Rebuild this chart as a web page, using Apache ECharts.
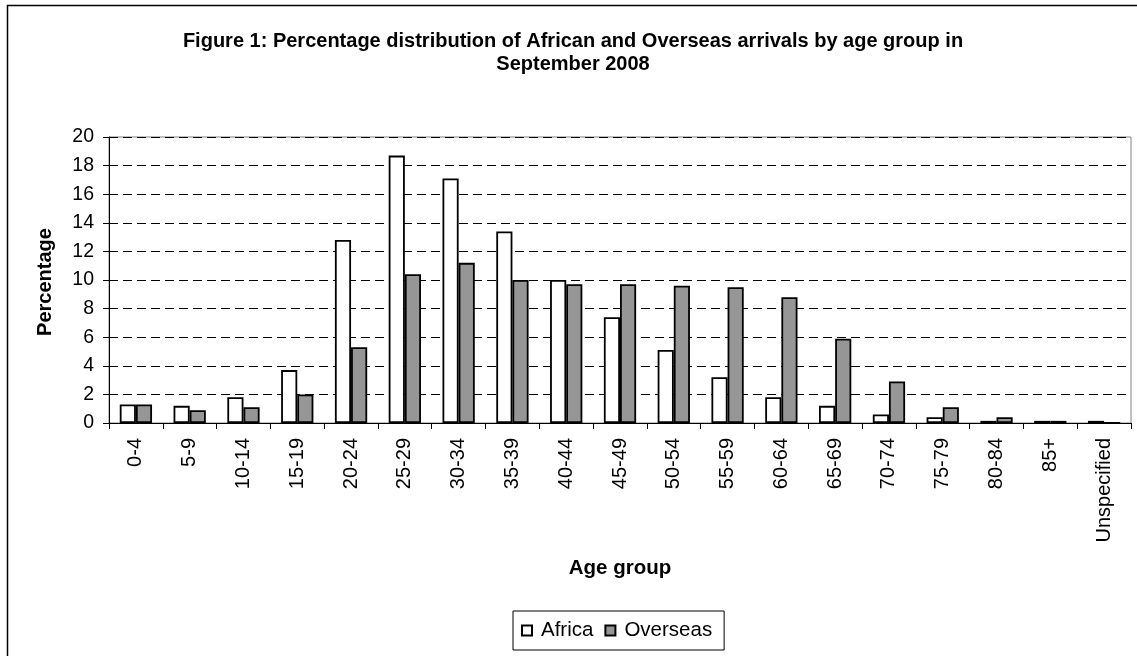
<!DOCTYPE html>
<html>
<head>
<meta charset="utf-8">
<script src="https://cdn.jsdelivr.net/npm/echarts@6/dist/echarts.min.js"></script>
<style>
html,body{margin:0;padding:0;background:#fff;}
#chart{width:1137px;height:656px;}
</style>
</head>
<body>
<div id="chart"></div>
<script>
const categories = ['0-4','5-9','10-14','15-19','20-24','25-29','30-34','35-39','40-44','45-49','50-54','55-59','60-64','65-69','70-74','75-79','80-84','85+','Unspecified'];
const africa   = [1.3, 1.2, 1.8, 3.7, 12.8, 18.7, 17.1, 13.4, 10.0, 7.4, 5.1, 3.2, 1.8, 1.2, 0.6, 0.4, 0.15, 0.15, 0.15];
const overseas = [1.3, 0.9, 1.1, 2.0, 5.3, 10.4, 11.2, 10.0, 9.7, 9.7, 9.6, 9.5, 8.8, 5.9, 2.9, 1.1, 0.4, 0.15, 0];
const yTicks = { min: 0, max: 20, interval: 2 };
const titleLines = ['Figure 1: Percentage distribution of African and Overseas arrivals by age group in', 'September 2008'];

const FONT = '"Liberation Sans", Arial, sans-serif';
const chart = echarts.init(document.getElementById('chart'), null, {renderer: 'canvas'});
chart.setOption({
  animation: false,
  backgroundColor: '#fff',
  textStyle: { fontFamily: FONT, color: '#000' },
  grid: { left: 109, right: 6, top: 137, bottom: 233, show: true, borderColor: '#808080', borderWidth: 1, backgroundColor: 'transparent' },
  xAxis: {
    type: 'category',
    data: categories,
    axisLine: { show: true, lineStyle: { color: '#000', width: 1 } },
    axisTick: { show: true, length: 6, lineStyle: { color: '#000' } },
    axisLabel: { rotate: 90, fontSize: 20, fontFamily: FONT, color: '#000', margin: 15, interval: 0 },
    splitLine: { show: false }
  },
  yAxis: {
    type: 'value',
    min: yTicks.min, max: yTicks.max, interval: yTicks.interval,
    axisLine: { show: true, lineStyle: { color: '#000', width: 1 } },
    axisTick: { show: true, length: 6, lineStyle: { color: '#000' } },
    axisLabel: { fontSize: 19.5, fontFamily: FONT, color: '#000', margin: 15 },
    splitLine: { show: true, lineStyle: { color: '#000', width: 1, type: [9, 5] } }
  },
  legend: {
    left: 513, top: 611,
    orient: 'horizontal',
    icon: 'rect',
    itemWidth: 10, itemHeight: 10, itemGap: 11,
    padding: [9, 12, 9, 8],
    borderColor: '#000', borderWidth: 1,
    textStyle: { fontSize: 20.5, fontFamily: FONT, color: '#000', padding: [0, 0, 0, 4] },
    data: ['Africa', 'Overseas']
  },
  graphic: [
    { type: 'rect', shape: { x: 7.5, y: 5.5, width: 1300, height: 800 }, style: { fill: 'none', stroke: '#000', lineWidth: 1.5 }, silent: true },
    { type: 'text', x: 573, y: 41, style: { text: titleLines[0], font: 'bold 20px ' + FONT, fill: '#000', textAlign: 'center', textVerticalAlign: 'middle' } },
    { type: 'text', x: 573, y: 64, style: { text: titleLines[1], font: 'bold 20px ' + FONT, fill: '#000', textAlign: 'center', textVerticalAlign: 'middle' } },
    { type: 'text', x: 620, y: 568, style: { text: 'Age group', font: 'bold 20.5px ' + FONT, fill: '#000', textAlign: 'center', textVerticalAlign: 'middle' } },
    { type: 'text', x: 45, y: 282, rotation: Math.PI / 2, style: { text: 'Percentage', font: 'bold 20px ' + FONT, fill: '#000', textAlign: 'center', textVerticalAlign: 'middle' } }
  ],
  series: [
    { name: 'Africa', type: 'bar', data: africa, barGap: '0%', barCategoryGap: '40%',
      itemStyle: { color: '#ffffff', borderColor: '#000', borderWidth: 1.8 } },
    { name: 'Overseas', type: 'bar', data: overseas, barGap: '0%', barCategoryGap: '40%',
      itemStyle: { color: '#969696', borderColor: '#000', borderWidth: 1.8 } }
  ]
});
</script>
</body>
</html>
